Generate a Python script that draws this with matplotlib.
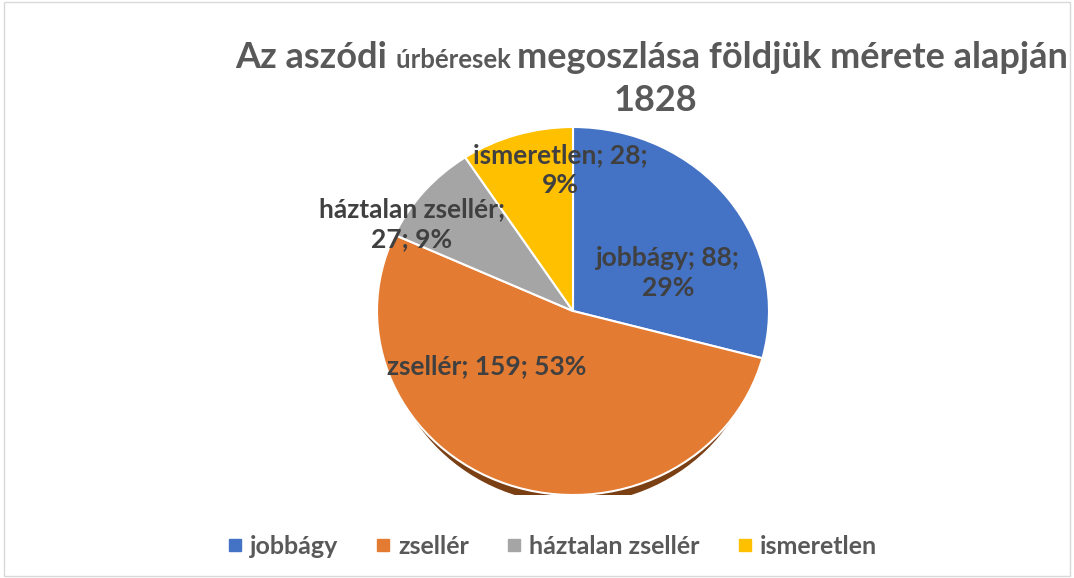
import matplotlib.pyplot as plt
from matplotlib.patches import Ellipse, Rectangle
from matplotlib.lines import Line2D

# adatok
categories = ['jobbágy', 'zsellér', 'háztalan zsellér', 'ismeretlen']
values = [88, 159, 27, 28]
percents = ['29%', '53%', '9%', '9%']
colors = ['#4472C4', '#E47B33', '#A5A5A5', '#FFC000']
label_texts = ['jobbágy; 88;\n29%', 'zsellér; 159; 53%', 'háztalan zsellér;\n27; 9%', 'ismeretlen; 28;\n9%']

plt.rcParams['font.family'] = ['Lato', 'DejaVu Sans']
W, H = 1074, 578
fig = plt.figure(figsize=(W / 100, H / 100), dpi=100)

# pie axes in pixel terms: center (573, 311), rx 196, ry 184
cx, cy, rx, ry = 573, 311, 196, 184
ax = fig.add_axes([(cx - rx) / W, (H - cy - ry) / H, 2 * rx / W, 2 * ry / H])

# shadow under the pie
ax.add_patch(Ellipse((0, -0.045), 1.92, 2.0, color='#7B3F14', zorder=0))
wedges, _ = ax.pie(values, colors=colors, startangle=90, counterclock=False,
                   radius=1.0, wedgeprops=dict(edgecolor='white', linewidth=1.5))
for w in wedges:
    w.set_zorder(1)
ax.set_aspect('auto')
ax.set_xlim(-1, 1)
ax.set_ylim(-1, 1)
ax.axis('off')

# data labels (pixel positions)
label_pos = [(668, 273), (487, 366), (412, 224), (560, 170)]
for txt, (px, py) in zip(label_texts, label_pos):
    fig.text(px / W, 1 - py / H, txt, ha='center', va='center', fontsize=19,
             fontweight='bold', color='#404040', linespacing=1.3)

# title with mixed sizes
parts = [('Az aszódi ', 26), ('úrbéresek ', 18.5), ('megoszlása földjük mérete alapján', 26)]
fig.canvas.draw()
r = fig.canvas.get_renderer()
objs = []
for s, fs in parts:
    t = fig.text(0, 1 - 68 / H, s, fontsize=fs, fontweight='bold', color='#595959', va='baseline')
    objs.append(t)
widths = [t.get_window_extent(r).width for t in objs]
x0 = 652 - sum(widths) / 2
for t, wdt in zip(objs, widths):
    t.set_x(x0 / W)
    x0 += wdt
fig.text(655 / W, 1 - 111 / H, '1828', fontsize=26, fontweight='bold', color='#595959',
         ha='center', va='baseline')

# legend
handles = [Line2D([], [], marker='s', linestyle='', color=c, markersize=8) for c in colors]
fig.legend(handles, categories, loc='center', bbox_to_anchor=(551 / W, 1 - 546 / H), ncol=4,
           frameon=False, handletextpad=0.2, columnspacing=1.4, handlelength=0.8,
           prop=dict(size=18, weight='bold'), labelcolor='#595959')

# thin frame
fig.add_artist(Rectangle((0.004, 0.004), 0.992, 0.992, transform=fig.transFigure,
                         fill=False, edgecolor='#D9D9D9', linewidth=1))

fig.savefig('out.png', dpi=100)
